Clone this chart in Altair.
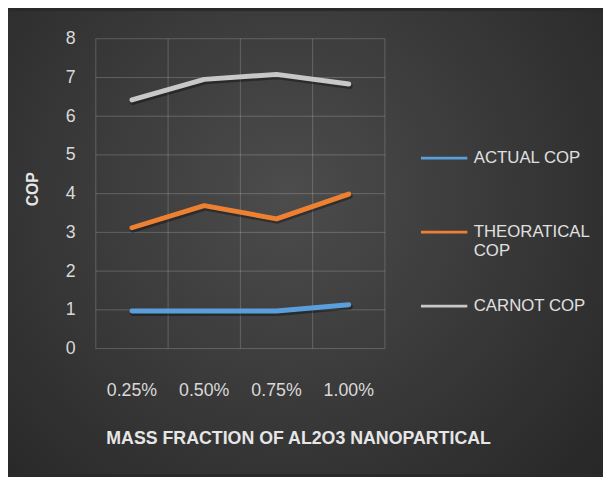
import altair as alt
import pandas as pd

categories = ["0.25%", "0.50%", "0.75%", "1.00%"]
series_names = ["ACTUAL COP", "THEORATICAL COP", "CARNOT COP"]
actual_cop = [0.97, 0.97, 0.97, 1.13]
theoretical_cop = [3.12, 3.69, 3.35, 3.99]
carnot_cop = [6.42, 6.95, 7.08, 6.83]
y_ticks = [0, 1, 2, 3, 4, 5, 6, 7, 8]
series_colors = ["#5a9fdc", "#ee8032", "#c8c8c8"]

rows = []
for name, vals in zip(series_names, [actual_cop, theoretical_cop, carnot_cop]):
    for c, v in zip(categories, vals):
        rows.append({"cat": c, "value": v, "series": name})
df = pd.DataFrame(rows)
df_cats = pd.DataFrame({"cat": categories})
df_last = pd.DataFrame({"cat": categories[-1:]})
df_y = pd.DataFrame({"value": y_ticks})

W, H = 293, 314
PAD = {"left": 89, "top": 28, "right": 221, "bottom": 127}
FONT = "Liberation Sans"

xscale = alt.Scale(type="band", paddingInner=0, paddingOuter=0, domain=categories)
yscale = alt.Scale(domain=[0, 8], nice=False, zero=True)

xaxis = alt.Axis(
    title="MASS FRACTION OF AL2O3 NANOPARTICAL",
    labelAngle=0,
    labelFontSize=18,
    labelFont=FONT,
    labelColor="#d9d9d9",
    labelPadding=34,
    ticks=False,
    domain=False,
    grid=False,
    titleFont=FONT,
    titleFontSize=18,
    titleFontWeight="bold",
    titleColor="#e6e6e6",
    titleX=205,
    titleY=96,
    titleAlign="center",
    titleBaseline="alphabetic",
    zindex=1,
)
yaxis = alt.Axis(
    title="COP",
    values=y_ticks,
    labelFontSize=18,
    labelFont=FONT,
    labelColor="#d9d9d9",
    labelPadding=21,
    ticks=False,
    domain=False,
    grid=False,
    titleFont=FONT,
    titleFontSize=16,
    titleFontWeight="bold",
    titleColor="#e6e6e6",
    titleX=-64,
    titleY=152,
    titleAngle=270,
    titleAlign="center",
    titleBaseline="middle",
    zindex=1,
)

bg = alt.Chart(pd.DataFrame({"a": [0]})).mark_rect(
    fill={
        "gradient": "radial",
        "x1": 0.47, "y1": 0.42, "r1": 0,
        "x2": 0.47, "y2": 0.42, "r2": 0.8,
        "stops": [
            {"offset": 0, "color": "#4c4c4c"},
            {"offset": 1, "color": "#222222"},
        ],
    }
).encode(
    x=alt.value(-PAD["left"]),
    x2=alt.value(W + PAD["right"]),
    y=alt.value(-PAD["top"]),
    y2=alt.value(H + PAD["bottom"]),
)

hgrid = alt.Chart(df_y).mark_rule(color="#ffffff", opacity=0.2, strokeWidth=1).encode(
    y=alt.Y("value:Q", scale=yscale, axis=yaxis)
)
vgrid = alt.Chart(df_cats).mark_rule(color="#ffffff", opacity=0.2, strokeWidth=1).encode(
    x=alt.X("cat:O", scale=xscale, sort=categories, bandPosition=0, axis=xaxis)
)
vgrid_end = alt.Chart(df_last).mark_rule(color="#ffffff", opacity=0.2, strokeWidth=1).encode(
    x=alt.X("cat:O", scale=xscale, sort=categories, bandPosition=1, axis=xaxis)
)

xenc = alt.X("cat:O", sort=categories, scale=xscale, axis=xaxis)
yenc = alt.Y("value:Q", scale=yscale, axis=yaxis)

shadow = alt.Chart(df).mark_line(
    color="#000000", opacity=0.35, strokeWidth=6, xOffset=1, yOffset=2,
    strokeCap="round", strokeJoin="round",
).encode(x=xenc, y=yenc, detail="series:N")

lines = alt.Chart(df).mark_line(
    strokeWidth=5, strokeCap="round", strokeJoin="round",
).encode(
    x=xenc,
    y=yenc,
    color=alt.Color(
        "series:N",
        scale=alt.Scale(domain=series_names, range=series_colors),
        sort=series_names,
        legend=alt.Legend(
            title=None,
            orient="none",
            legendX=328,
            legendY=96,
            padding=0,
            symbolType="stroke",
            symbolSize=2209,
            symbolStrokeWidth=3,
            labelFont=FONT,
            labelFontSize=17,
            labelColor="#e0e0e0",
            labelOffset=5,
            labelLimit=300,
            gridAlign="all",
            rowPadding=23,
            labelExpr="datum.label == 'THEORATICAL COP' ? ['THEORATICAL', 'COP'] : datum.label",
        ),
    ),
)

chart = alt.layer(bg, hgrid, vgrid, vgrid_end, shadow, lines).properties(
    width=W,
    height=H,
    padding=PAD,
    autosize=alt.AutoSizeParams(type="none"),
    background="#2a2a2a",
).configure_view(stroke=None)

chart.save("out.html", embed_options={"renderer": "svg", "actions": False})
